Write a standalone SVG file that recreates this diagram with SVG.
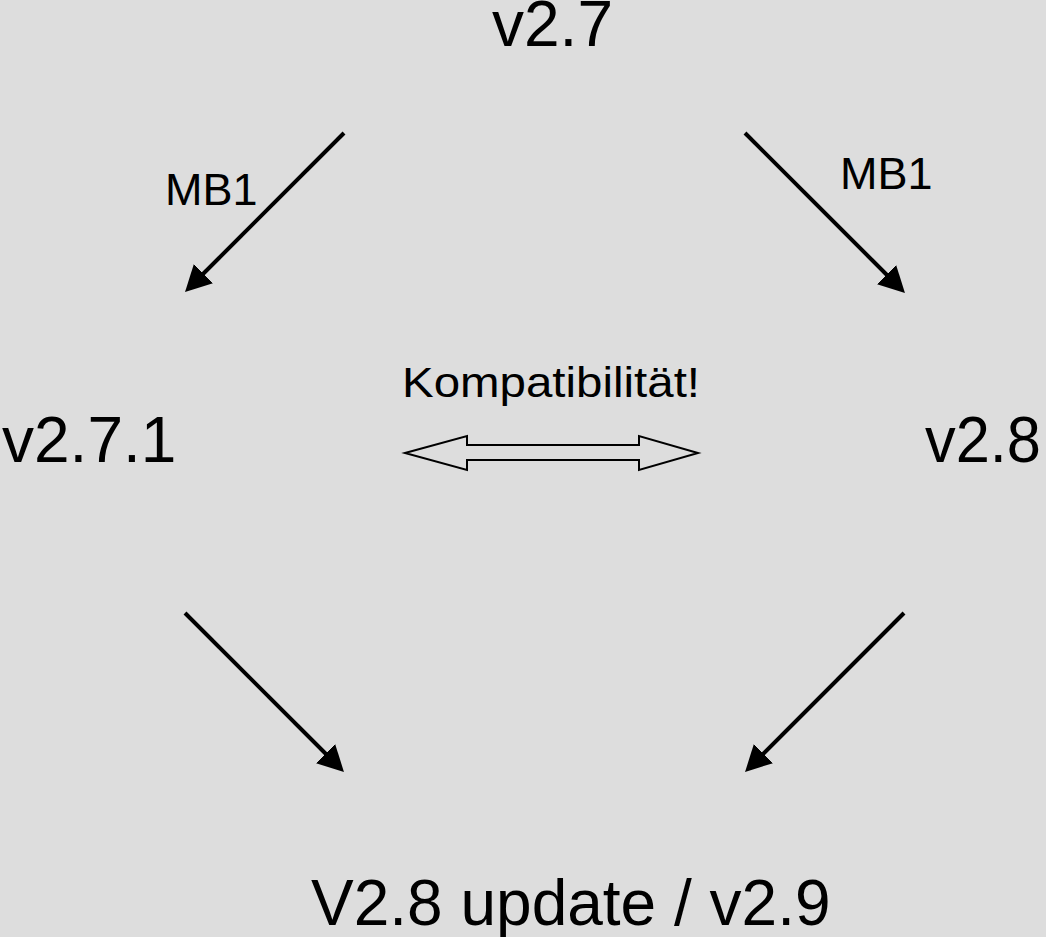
<svg xmlns="http://www.w3.org/2000/svg" width="1046" height="937" viewBox="0 0 1046 937">
  <style>
    .big { font-family: "Liberation Sans", Arial, sans-serif; font-size: 64px; fill: #000; }
    .lbl { font-family: "Liberation Sans", Arial, sans-serif; font-size: 45px; fill: #000; }
    .arr { stroke: #000; stroke-width: 4; fill: none; marker-end: url(#head); }
  </style>
  <defs>
    <marker id="head" markerUnits="userSpaceOnUse" markerWidth="27" markerHeight="28" refX="2" refY="13.5" orient="auto" viewBox="0 0 27 28">
      <path d="M0,0 L26,13.5 L0,27 z" fill="#000"/>
    </marker>
  </defs>
  <rect width="1046" height="937" fill="#dddddd"/>
  <g id="node-v27"><text class="big" x="492" y="46">v2.7</text></g>
  <g id="node-v271"><text class="big" x="2" y="462">v2.7.1</text></g>
  <g id="node-v28"><text class="big" x="925" y="462" textLength="116" lengthAdjust="spacingAndGlyphs">v2.8</text></g>
  <g id="node-v29"><text class="big" x="311" y="925">V2.8 update / v2.9</text></g>
  <g id="connectors">
    <line class="arr" x1="344" y1="133" x2="202" y2="275"/>
    <line class="arr" x1="745" y1="133" x2="888" y2="276"/>
    <line class="arr" x1="185" y1="613" x2="327" y2="755"/>
    <line class="arr" x1="904" y1="613" x2="762" y2="755"/>
    <polygon points="405,453 467,436 467,445 639,445 639,436 698,453 639,470 639,460 467,460 467,470" fill="#dddddd" stroke="#000" stroke-width="2"/>
    <text class="lbl" x="165" y="205">MB1</text>
    <text class="lbl" x="840" y="189">MB1</text>
    <text class="lbl" x="402" y="397" style="font-size:43px" textLength="298" lengthAdjust="spacingAndGlyphs">Kompatibilität!</text>
  </g>
</svg>
